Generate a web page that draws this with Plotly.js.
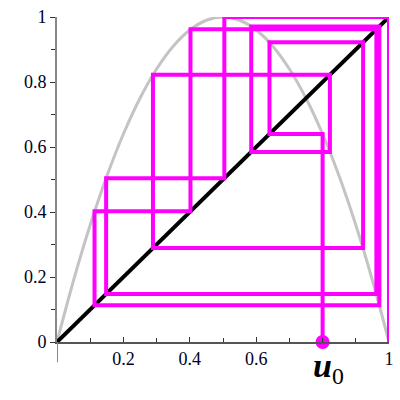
<!DOCTYPE html>
<html>
<head>
<meta charset="utf-8">
<script src="https://cdn.plot.ly/plotly-3.0.1.min.js"></script>
<style>html,body{margin:0;padding:0;background:#fff;}#plot{width:400px;height:400px;}</style>
</head>
<body>
<div id="plot"></div>
<script>
// Parabola samples (y = curve height at x)
const curveX = [0, 0.05, 0.1, 0.15, 0.2, 0.25, 0.3, 0.35, 0.4, 0.45, 0.5, 0.55, 0.6, 0.65, 0.7, 0.75, 0.8, 0.85, 0.9, 0.95, 1];
const curveY = [0, 0.19, 0.36, 0.51, 0.64, 0.75, 0.84, 0.91, 0.96, 0.99, 1, 0.99, 0.96, 0.91, 0.84, 0.75, 0.64, 0.51, 0.36, 0.19, 0];
// Diagonal
const diagX = [0, 1];
const diagY = [0, 1];
// Orbit values read from the cobweb (u0, u1, ...)
const orbit = [0.8, 0.64, 0.922, 0.289, 0.822, 0.585, 0.971, 0.113, 0.402, 0.962, 0.148, 0.504, 1.0, 0.0];
// Tick labels (0.8 is covered by the u0 label in the reference)
const xTicks = [0.2, 0.4, 0.6, 1];
const yTicks = [0, 0.2, 0.4, 0.6, 0.8, 1];

const webX = [orbit[0]], webY = [0];
for (let i = 0; i < orbit.length - 1; i++) {
  webX.push(orbit[i]); webY.push(orbit[i + 1]);
  if (i < orbit.length - 2) { webX.push(orbit[i + 1]); webY.push(orbit[i + 1]); }
}

const serif = 'Liberation Serif';
const tickFont = {family: serif, size: 18, color: '#000022'};
const data = [
  {x: curveX, y: curveY, mode: 'lines', line: {color: '#c4c4c4', width: 3, shape: 'spline'}, hoverinfo: 'skip'},
  {x: diagX, y: diagY, mode: 'lines', line: {color: '#000000', width: 4}, hoverinfo: 'skip'},
  {x: webX, y: webY, mode: 'lines', line: {color: '#ff00ff', width: 4}, hoverinfo: 'skip'},
  {x: [orbit[0]], y: [0], mode: 'markers', marker: {color: '#ff00ff', size: 14}, cliponaxis: false, hoverinfo: 'skip'}
];
const layout = {
  width: 400, height: 400,
  margin: {l: 57, r: 11, t: 17, b: 58},
  paper_bgcolor: '#fff', plot_bgcolor: '#fff',
  showlegend: false,
  font: {family: serif, size: 18, color: '#000022'},
  xaxis: {
    range: [0, 1], showgrid: false, zeroline: false,
    showline: true, linecolor: '#555', linewidth: 1.5,
    tickvals: xTicks, ticktext: xTicks.map(String), tickfont: tickFont,
    ticks: 'inside', ticklen: 5, tickcolor: '#333',
    minor: {ticks: 'inside', ticklen: 4, tickcolor: '#333', dtick: 0.1, tick0: 0},
    fixedrange: true
  },
  yaxis: {
    range: [0, 1], showgrid: false, zeroline: false,
    showline: true, linecolor: '#888', linewidth: 2,
    tickvals: yTicks, ticktext: yTicks.map(String), tickfont: tickFont,
    ticks: 'outside', ticklen: 5, tickcolor: '#333',
    minor: {ticks: 'outside', ticklen: 4, tickcolor: '#333', dtick: 0.1, tick0: 0},
    fixedrange: true
  },
  shapes: [
    {type: 'line', xref: 'x', yref: 'paper', x0: 0, x1: 0, y0: 0, y1: -0.062, line: {color: '#888', width: 2}}
  ],
  annotations: [
    {x: orbit[0], y: 0, xref: 'x', yref: 'y', yshift: -26, xshift: 6, showarrow: false,
     text: '<b><i>u</i></b><sub>0</sub>', font: {family: serif, size: 34, color: '#000'}}
  ]
};
Plotly.newPlot('plot', data, layout, {displayModeBar: false, staticPlot: true});
</script>
</body>
</html>
